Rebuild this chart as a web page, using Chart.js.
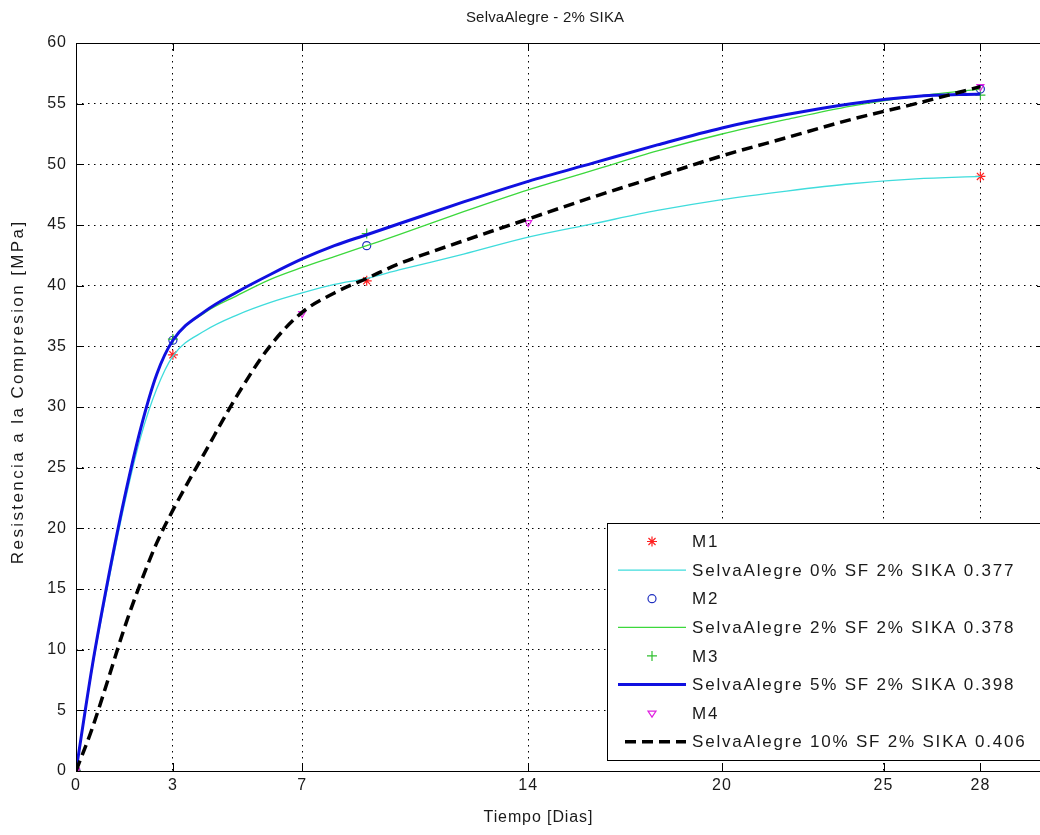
<!DOCTYPE html>
<html><head><meta charset="utf-8">
<script src="https://cdn.jsdelivr.net/npm/chart.js@4/dist/chart.umd.min.js"></script>
<style>
html,body{margin:0;padding:0;background:#fff;overflow:hidden}
#wrap{width:1040px;height:835px;overflow:hidden;position:relative;background:#fff}
#wrap canvas{position:absolute;left:0;top:0}
</style></head>
<body><div id="wrap"><canvas id="c" width="1060" height="835" style="width:1060px;height:835px"></canvas></div>
<script>
// ---- text ----
const chartTitle = 'SelvaAlegre - 2% SIKA';
const xTitle = 'Tiempo [Dias]';
const yTitle = 'Resistencia a la Compresion [MPa]';
const xTickValues = [0, 3, 7, 14, 20, 25, 28];

// ---- fitted curves ----
const curveDays = [0, 0.5, 1, 1.5, 2, 2.5, 3, 4, 5, 6, 7, 8, 9, 10, 12, 14, 16, 18, 20, 22, 24, 26, 28];
const sf0Curve  = [0, 8.4, 15.5, 22.0, 27.5, 31.5, 34.2, 36.3, 37.6, 38.6, 39.4, 40.1, 40.6, 41.3, 42.6, 44.0, 45.1, 46.2, 47.1, 47.8, 48.4, 48.8, 49.0];
const sf2Curve  = [0, 8.6, 15.9, 22.5, 28.2, 32.7, 35.5, 37.8, 39.2, 40.5, 41.5, 42.4, 43.3, 44.2, 46.1, 47.9, 49.5, 51.1, 52.5, 53.7, 54.8, 55.6, 56.2];
const sf5Curve  = [0, 8.6, 15.9, 22.5, 28.2, 32.7, 35.5, 37.9, 39.5, 40.9, 42.2, 43.3, 44.2, 45.1, 46.9, 48.6, 50.1, 51.6, 53.0, 54.1, 55.0, 55.6, 55.8];
const sf10Curve = [0, 3.5, 7.6, 11.8, 15.5, 18.8, 21.5, 26.3, 31.0, 35.0, 37.8, 39.4, 40.6, 41.8, 43.7, 45.5, 47.3, 49.0, 50.7, 52.2, 53.7, 55.0, 56.4];

// ---- measured points ----
const m1Days = [0, 3, 9, 28];
const m1Vals = [0, 34.3, 40.4, 49.0];
const m2Days = [0, 3, 9, 28];
const m2Vals = [0, 35.5, 43.3, 56.2];
const m3Days = [0, 3, 9, 28];
const m3Vals = [0, 35.6, 44.3, 55.7];
const m4Days = [0, 7, 14, 28];
const m4Vals = [0, 37.7, 45.2, 56.4];

const seriesLabels = ['M1', 'SelvaAlegre 0% SF 2% SIKA 0.377', 'M2', 'SelvaAlegre 2% SF 2% SIKA 0.378',
                      'M3', 'SelvaAlegre 5% SF 2% SIKA 0.398', 'M4', 'SelvaAlegre 10% SF 2% SIKA 0.406'];

const pts = (xs, ys) => xs.map((x, i) => ({x: x, y: ys[i]}));

const FONT = 'Liberation Sans, Arial, sans-serif';
const TXT = '#1a1a1a';

function curve(label, vals, color, width, dash, order) {
  return {label, data: pts(curveDays, vals), borderColor: color, backgroundColor: color,
    borderWidth: width, borderDash: dash, pointRadius: 0, fill: false,
    cubicInterpolationMode: 'monotone', order, _kind: 'line'};
}
function marks(label, xs, ys, color, style, radius, rot, order) {
  return {label, data: pts(xs, ys), showLine: false, borderColor: color, backgroundColor: 'rgba(0,0,0,0)',
    pointStyle: style, pointRadius: radius, pointRotation: rot, pointBorderWidth: 1.2,
    pointBorderColor: color, pointBackgroundColor: 'rgba(0,0,0,0)', order, _kind: 'mark'};
}

const datasets = [
  marks(seriesLabels[0], m1Days, m1Vals, '#ff2020', 'star', 5, 0, 7),
  curve(seriesLabels[1], sf0Curve, '#3fdcdc', 1.3, [], 6),
  marks(seriesLabels[2], m2Days, m2Vals, '#2030c0', 'circle', 4, 0, 5),
  curve(seriesLabels[3], sf2Curve, '#3cd83c', 1.3, [], 4),
  marks(seriesLabels[4], m3Days, m3Vals, '#30c030', 'cross', 5, 0, 3),
  curve(seriesLabels[5], sf5Curve, '#1010e0', 3, [], 2),
  marks(seriesLabels[6], m4Days, m4Vals, '#e020e0', 'triangle', 4, 180, 1),
  curve(seriesLabels[7], sf10Curve, '#000000', 3.5, [11, 6], 0)
];

function drawMarker(ctx, style, x, y, r, color, rot) {
  ctx.save();
  ctx.strokeStyle = color; ctx.lineWidth = 1.2; ctx.setLineDash([]);
  ctx.beginPath();
  if (style === 'star') {
    for (let a = 0; a < 4; a++) {
      const t = a * Math.PI / 4;
      ctx.moveTo(x - r * Math.cos(t), y - r * Math.sin(t));
      ctx.lineTo(x + r * Math.cos(t), y + r * Math.sin(t));
    }
  } else if (style === 'circle') {
    ctx.arc(x, y, r, 0, Math.PI * 2);
  } else if (style === 'cross') {
    ctx.moveTo(x - r, y); ctx.lineTo(x + r, y);
    ctx.moveTo(x, y - r); ctx.lineTo(x, y + r);
  } else if (style === 'triangle') {
    const h = r * 1.5;
    ctx.moveTo(x - r, y - h / 3);
    ctx.lineTo(x + r, y - h / 3);
    ctx.lineTo(x, y + 2 * h / 3);
    ctx.closePath();
  }
  ctx.stroke();
  ctx.restore();
}

function spacedText(ctx, text, x, y, font, spacing, rot) {
  ctx.save();
  ctx.font = font;
  ctx.letterSpacing = spacing + 'px';
  ctx.fillStyle = TXT;
  ctx.textAlign = 'left';
  ctx.textBaseline = 'middle';
  const w = ctx.measureText(text).width - spacing;
  ctx.translate(x, y);
  if (rot) ctx.rotate(rot);
  ctx.fillText(text, -w / 2, 0);
  ctx.restore();
}

const framePlugin = {
  id: 'frame',
  beforeDraw(chart) {
    chart.ctx.letterSpacing = '1px';
  },
  afterDatasetsDraw(chart) {
    const {ctx, chartArea: a, scales} = chart;
    ctx.save();
    ctx.strokeStyle = '#000'; ctx.lineWidth = 1; ctx.setLineDash([]);
    ctx.strokeRect(Math.round(a.left) + 0.5, Math.round(a.top) + 0.5, Math.round(a.right - a.left), Math.round(a.bottom - a.top));
    const tl = 8;
    ctx.beginPath();
    xTickValues.forEach(v => {
      const x = Math.round(scales.x.getPixelForValue(v)) + 0.5;
      ctx.moveTo(x, a.bottom); ctx.lineTo(x, a.bottom - tl);
      ctx.moveTo(x, a.top); ctx.lineTo(x, a.top + tl);
    });
    scales.y.ticks.forEach(t => {
      const y = Math.round(scales.y.getPixelForValue(t.value)) + 0.5;
      ctx.moveTo(a.left, y); ctx.lineTo(a.left + tl, y);
      ctx.moveTo(a.right, y); ctx.lineTo(a.right - tl, y);
    });
    ctx.stroke();
    ctx.restore();
  },
  afterDraw(chart) {
    const ctx = chart.ctx;
    // titles
    spacedText(ctx, chartTitle, 545, 18, '15px ' + FONT, 0.2, 0);
    spacedText(ctx, xTitle, 538, 818, '16px ' + FONT, 0.9, 0);
    spacedText(ctx, yTitle, 18, 393, '17px ' + FONT, 2.4, -Math.PI / 2);
    // legend
    ctx.save();
    ctx.setLineDash([]);
    const bx = 607.5, by = 523.5, bw = 450, bh = 237;
    ctx.fillStyle = '#fff';
    ctx.fillRect(bx, by, bw, bh);
    ctx.strokeStyle = '#000'; ctx.lineWidth = 1;
    ctx.strokeRect(bx, by, bw, bh);
    ctx.font = '17px ' + FONT;
    ctx.letterSpacing = '1.8px';
    ctx.fillStyle = TXT;
    ctx.textBaseline = 'middle';
    const rowY0 = 541.5, rowH = 28.6;
    chart.data.datasets.forEach((ds, i) => {
      const y = rowY0 + i * rowH;
      if (ds._kind === 'mark') {
        drawMarker(ctx, ds.pointStyle, 652, y, ds.pointRadius, ds.pointBorderColor, ds.pointRotation);
      } else {
        ctx.save();
        ctx.strokeStyle = ds.borderColor; ctx.lineWidth = ds.borderWidth;
        ctx.setLineDash(ds.borderDash || []);
        ctx.beginPath();
        const x0 = ds.borderDash && ds.borderDash.length ? 625 : 618;
        ctx.moveTo(x0, y); ctx.lineTo(686, y);
        ctx.stroke();
        ctx.restore();
      }
      ctx.fillText(ds.label, 692, y + 1);
    });
    ctx.restore();
  }
};

new Chart(document.getElementById('c'), {
  type: 'line',
  data: {datasets},
  plugins: [framePlugin],
  options: {
    responsive: false,
    animation: false,
    devicePixelRatio: 1,
    layout: {padding: {left: 0, right: 15, top: 43, bottom: 0}},
    plugins: {
      legend: {display: false},
      tooltip: {enabled: false},
      title: {display: false}
    },
    scales: {
      x: {
        type: 'linear', min: 0, max: 30,
        afterFit: s => { s.height = 64; },
        afterBuildTicks: s => { s.ticks = xTickValues.map(v => ({value: v})); },
        ticks: {color: TXT, font: {family: FONT, size: 16}, padding: 5, autoSkip: false, maxRotation: 0,
          callback: v => String(v)},
        grid: {color: '#000', lineWidth: 1, drawTicks: false},
        border: {display: false, dash: [1.5, 4.5]},
        title: {display: false}
      },
      y: {
        type: 'linear', min: 0, max: 60,
        afterFit: s => { s.width = 76; },
        ticks: {stepSize: 5, color: TXT, font: {family: FONT, size: 16}, padding: 9},
        grid: {color: '#000', lineWidth: 1, drawTicks: false},
        border: {display: false, dash: [1.5, 4.5]},
        title: {display: false}
      }
    }
  }
});
</script>
</body></html>
